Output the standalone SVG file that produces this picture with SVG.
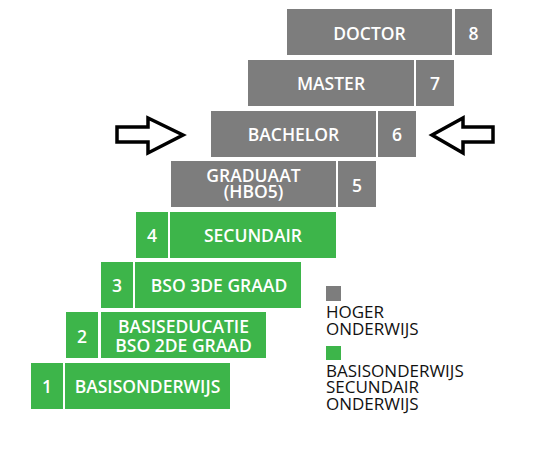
<svg xmlns="http://www.w3.org/2000/svg" width="535" height="451" viewBox="0 0 535 451">
<style>
.g{fill:#7d7d7d}
.gr{fill:#3db54a}
.t{font-family:"Open Sans","Liberation Sans",sans-serif;font-size:17.5px;font-weight:600;fill:#fff;text-anchor:middle}
.l{font-family:"Open Sans","Liberation Sans",sans-serif;font-size:17px;fill:#111}
.arr{fill:#fff;stroke:#000;stroke-width:3.5;stroke-linejoin:miter}
</style>
<rect width="535" height="451" fill="#fff"/>
<g id="doctor"><rect class="g" x="287" y="9" width="165" height="46"/><text class="t" x="369.5" y="40">DOCTOR</text></g>
<g id="n8"><rect class="g" x="455" y="9" width="37" height="46"/><text class="t" x="473.5" y="40">8</text></g>
<g id="master"><rect class="g" x="248" y="60" width="166" height="46"/><text class="t" x="331" y="90">MASTER</text></g>
<g id="n7"><rect class="g" x="416" y="60" width="38" height="46"/><text class="t" x="435" y="90">7</text></g>
<g id="bachelor"><rect class="g" x="211" y="111" width="165" height="46"/><text class="t" x="293.5" y="141">BACHELOR</text></g>
<g id="n6"><rect class="g" x="378" y="111" width="38" height="46"/><text class="t" x="397" y="141">6</text></g>
<g id="graduaat"><rect class="g" x="171" y="161" width="165" height="46"/><text class="t" x="253.5" y="182">GRADUAAT</text><text class="t" x="253.5" y="198">(HBO5)</text></g>
<g id="n5"><rect class="g" x="338" y="161" width="38" height="46"/><text class="t" x="357" y="192">5</text></g>
<g id="n4"><rect class="gr" x="136" y="212" width="32" height="46"/><text class="t" x="152" y="242">4</text></g>
<g id="secundair"><rect class="gr" x="170" y="212" width="166" height="46"/><text class="t" x="253" y="242">SECUNDAIR</text></g>
<g id="n3"><rect class="gr" x="101" y="262" width="32" height="46"/><text class="t" x="117" y="292">3</text></g>
<g id="bso3"><rect class="gr" x="135" y="262" width="166" height="46"/><text class="t" x="219" y="292">BSO 3DE GRAAD</text></g>
<g id="n2"><rect class="gr" x="66" y="312" width="32" height="46"/><text class="t" x="82" y="343">2</text></g>
<g id="basiseducatie"><rect class="gr" x="101" y="312" width="165" height="46"/><text class="t" x="183.5" y="333">BASISEDUCATIE</text><text class="t" x="183.5" y="352">BSO 2DE GRAAD</text></g>
<g id="n1"><rect class="gr" x="31" y="363" width="32" height="46"/><text class="t" x="47" y="393">1</text></g>
<g id="basisonderwijs"><rect class="gr" x="65" y="363" width="165" height="46"/><text class="t" x="147.5" y="393">BASISONDERWIJS</text></g>
<g id="legend">
<rect class="g" x="326" y="286" width="15" height="15"/>
<text class="l" x="326" y="318">HOGER</text>
<text class="l" x="326" y="335">ONDERWIJS</text>
<rect class="gr" x="326" y="346" width="15" height="14"/>
<text class="l" x="326" y="377">BASISONDERWIJS</text>
<text class="l" x="326" y="393">SECUNDAIR</text>
<text class="l" x="326" y="410">ONDERWIJS</text>
</g>
<g id="connectors">
<polygon class="arr" points="117,127 148,127 148,118 183,135 148,153 148,142 117,142"/>
<polygon class="arr" points="493,127 463,127 463,118 432,135 463,153 463,142 493,142"/>
</g>
</svg>
